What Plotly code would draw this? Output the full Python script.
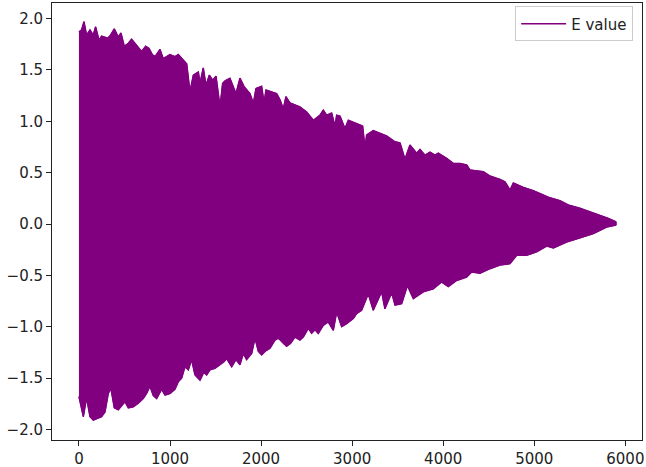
import plotly.graph_objects as go

# Upper envelope of the "E value" signal
upper_x = [0, 29, 55, 84, 121, 157, 183, 220, 249, 315, 340, 388, 432, 461, 498, 542,
           578, 615, 652, 688, 732, 769, 805, 835, 890, 926, 999, 1054, 1091, 1128,
           1183, 1219, 1256, 1311, 1329, 1365, 1395, 1432, 1468, 1505, 1549, 1578,
           1604, 1658, 1724, 1768, 1812, 1878, 1915, 1944, 2006, 2032, 2054, 2171,
           2208, 2244, 2273, 2317, 2427, 2501, 2574, 2647, 2683, 2720, 2775, 2812,
           2830, 2867, 2921, 2958, 3049, 3115, 3141, 3159, 3232, 3379, 3471, 3526,
           3580, 3635, 3709, 3745, 3800, 3855, 3910, 3946, 4038, 4111, 4185, 4258,
           4294, 4368, 4441, 4514, 4624, 4679, 4734, 4770, 4880, 4990, 5100, 5155,
           5283, 5374, 5502, 5612, 5722, 5814, 5900]
upper_y = [1.87, 1.89, 1.97, 1.84, 1.89, 1.84, 1.92, 1.79, 1.83, 1.81, 1.83, 1.90, 1.82,
           1.86, 1.73, 1.76, 1.80, 1.76, 1.71, 1.68, 1.73, 1.71, 1.65, 1.63, 1.70, 1.61,
           1.65, 1.63, 1.65, 1.61, 1.56, 1.29, 1.45, 1.48, 1.37, 1.52, 1.35, 1.45, 1.40,
           1.44, 1.14, 1.37, 1.395, 1.42, 1.27, 1.42, 1.34, 1.27, 1.175, 1.32, 1.34,
           1.18, 1.305, 1.27, 1.21, 1.12, 1.24, 1.18, 1.14, 1.09, 1.01, 1.06, 1.11,
           1.06, 1.08, 0.95, 1.06, 1.05, 0.93, 1.01, 0.98, 0.954, 0.74, 0.867, 0.91,
           0.857, 0.80, 0.79, 0.63, 0.77, 0.69, 0.727, 0.67, 0.70, 0.67, 0.69, 0.64,
           0.59, 0.59, 0.575, 0.526, 0.52, 0.51, 0.467, 0.435, 0.41, 0.33, 0.40, 0.357,
           0.325, 0.28, 0.26, 0.227, 0.185, 0.153, 0.12, 0.088, 0.055, 0.02]

# Lower envelope
lower_x = [0, 21, 48, 84, 121, 157, 205, 249, 286, 322, 351, 388, 432, 505, 542, 597,
           652, 706, 743, 780, 816, 853, 908, 945, 999, 1054, 1091, 1128, 1164, 1201,
           1237, 1274, 1329, 1373, 1402, 1439, 1494, 1549, 1593, 1622, 1677, 1724,
           1768, 1805, 1841, 1897, 1933, 1970, 2006, 2043, 2098, 2153, 2189, 2244,
           2281, 2325, 2372, 2427, 2464, 2519, 2555, 2592, 2628, 2683, 2738, 2793,
           2830, 2885, 2940, 3013, 3049, 3104, 3177, 3232, 3324, 3360, 3434, 3471,
           3544, 3607, 3672, 3782, 3892, 3983, 4056, 4148, 4258, 4313, 4404, 4514,
           4624, 4734, 4807, 4917, 5027, 5137, 5210, 5356, 5502, 5649, 5795, 5900]
lower_y = [-1.68, -1.78, -1.876, -1.69, -1.876, -1.91, -1.89, -1.876, -1.83, -1.65,
           -1.60, -1.79, -1.81, -1.73, -1.79, -1.78, -1.745, -1.70, -1.65, -1.58,
           -1.67, -1.70, -1.61, -1.665, -1.65, -1.61, -1.535, -1.50, -1.39, -1.42,
           -1.32, -1.47, -1.52, -1.44, -1.47, -1.42, -1.405, -1.37, -1.34, -1.31,
           -1.39, -1.32, -1.37, -1.26, -1.32, -1.26, -1.11, -1.24, -1.275, -1.24,
           -1.21, -1.13, -1.11, -1.16, -1.19, -1.16, -1.10, -1.13, -1.10, -1.015,
           -1.065, -1.03, -1.065, -0.986, -0.954, -1.035, -0.857, -1.00, -0.97, -0.92,
           -0.873, -0.84, -0.68, -0.84, -0.66, -0.825, -0.67, -0.79, -0.776, -0.60,
           -0.727, -0.66, -0.63, -0.565, -0.61, -0.55, -0.516, -0.467, -0.48, -0.435,
           -0.40, -0.386, -0.305, -0.305, -0.27, -0.214, -0.234, -0.175, -0.136,
           -0.094, -0.03, -0.01]

x_ticks = [0, 1000, 2000, 3000, 4000, 5000, 6000]
y_ticks = [-2.0, -1.5, -1.0, -0.5, 0.0, 0.5, 1.0, 1.5, 2.0]

PURPLE = "#800080"

fig = go.Figure()
# filled band between envelopes
fig.add_trace(go.Scatter(
    x=upper_x + lower_x[::-1],
    y=upper_y + lower_y[::-1],
    fill="toself", fillcolor=PURPLE,
    line=dict(color=PURPLE, width=1),
    mode="lines", showlegend=False, hoverinfo="skip"))
fig.add_trace(go.Scatter(x=upper_x, y=upper_y, mode="lines",
                         line=dict(color=PURPLE, width=1.5), name="E value"))
fig.add_trace(go.Scatter(x=lower_x, y=lower_y, mode="lines",
                         line=dict(color=PURPLE, width=1.5), showlegend=False))

axis_common = dict(showgrid=False, zeroline=False, showline=True, linecolor="#222",
                   linewidth=1, mirror=True, ticks="outside", ticklen=5, tickwidth=1,
                   tickcolor="#222", automargin=False,
                   tickfont=dict(family="DejaVu Sans", size=15, color="#222"))
fig.update_xaxes(range=[-296, 6183], tickvals=x_ticks,
                 ticktext=[str(v) for v in x_ticks], **axis_common)
fig.update_yaxes(range=[-2.103, 2.152], tickvals=y_ticks, tickformat=".1f",
                 **axis_common)

fig.update_layout(
    width=646, height=467,
    margin=dict(l=52, r=4, t=3, b=27),
    plot_bgcolor="white", paper_bgcolor="white",
    font=dict(family="DejaVu Sans", size=15, color="#222"),
    legend=dict(x=0.985, y=0.992, xanchor="right", yanchor="top",
                bgcolor="rgba(255,255,255,0.8)", bordercolor="#cccccc", borderwidth=1,
                itemwidth=45, tracegroupgap=0,
                font=dict(family="DejaVu Sans", size=15, color="#222")),
)

fig.write_html("out.html", config={"displayModeBar": False},
               post_script="document.body.style.margin='0';document.body.style.overflow='hidden';")
